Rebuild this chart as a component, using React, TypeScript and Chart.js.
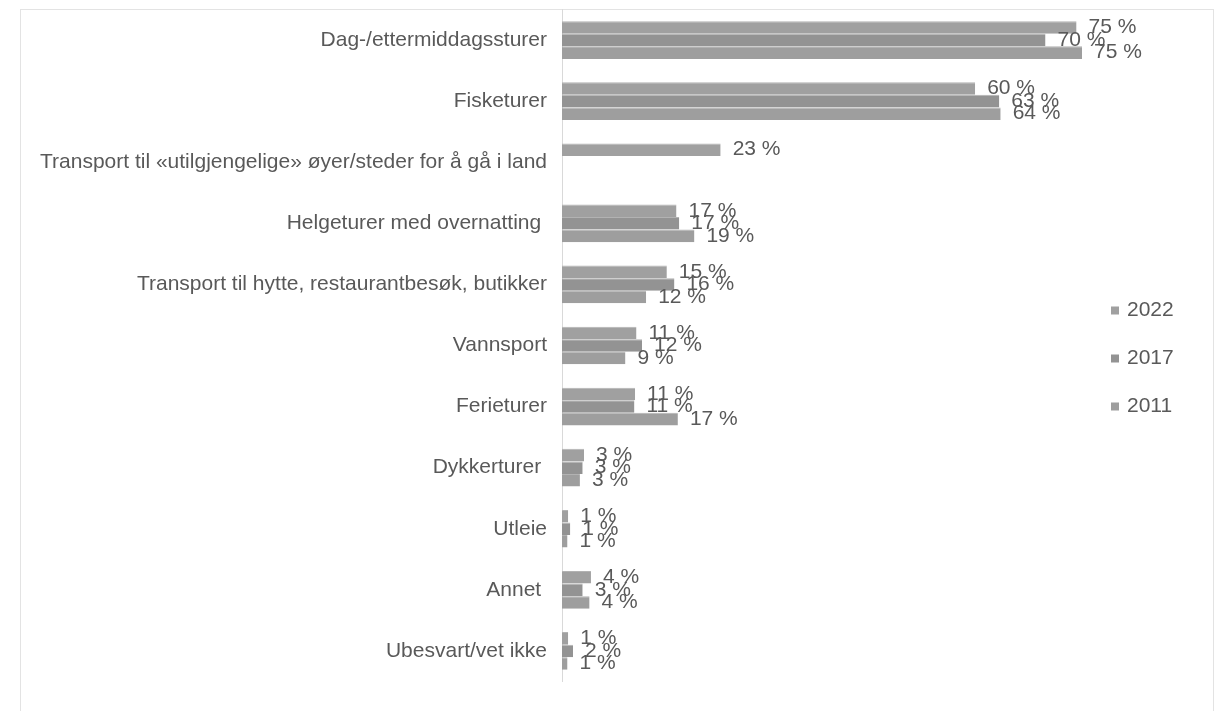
import React, { useEffect, useRef } from "react";
import { Chart, registerables } from "chart.js";

Chart.register(...registerables);

const categories = [
  "Dag-/ettermiddagssturer",
  "Fisketurer",
  "Transport til «utilgjengelige» øyer/steder for å gå i land",
  "Helgeturer med overnatting ",
  "Transport til hytte, restaurantbesøk, butikker",
  "Vannsport",
  "Ferieturer",
  "Dykkerturer ",
  "Utleie",
  "Annet ",
  "Ubesvart/vet ikke",
];

const seriesNames = ["2022", "2017", "2011"];

const values2022: (number | null)[] = [74.6, 59.9, 23.0, 16.6, 15.2, 10.8, 10.6, 3.2, 0.9, 4.2, 0.9];
const values2017: (number | null)[] = [70.1, 63.4, null, 17.0, 16.3, 11.6, 10.5, 3.0, 1.2, 3.0, 1.6];
const values2011: (number | null)[] = [75.4, 63.6, null, 19.2, 12.2, 9.2, 16.8, 2.6, 0.8, 4.0, 0.8];

const seriesColors = ["#a0a0a0", "#939393", "#9e9e9e"];

const FONT = "'Liberation Sans', Arial, sans-serif";
const TEXT_COLOR = "#595959";
const FONT_SIZE = 21;

const valueLabels = {
  id: "valueLabels",
  afterDatasetsDraw(chart: any) {
    const ctx = chart.ctx;
    ctx.save();
    ctx.font = `${FONT_SIZE}px ${FONT}`;
    ctx.fillStyle = TEXT_COLOR;
    ctx.textAlign = "left";
    ctx.textBaseline = "middle";
    chart.data.datasets.forEach((ds: any, di: number) => {
      const meta = chart.getDatasetMeta(di);
      meta.data.forEach((el: any, i: number) => {
        const v = ds.data[i];
        if (v === null || v === undefined) return;
        ctx.fillText(`${Math.round(v)} %`, el.x + 12, el.y);
      });
    });
    ctx.restore();
  },
};

const sideLegend = {
  id: "sideLegend",
  afterDraw(chart: any) {
    const ctx = chart.ctx;
    const area = chart.chartArea;
    const n = chart.data.datasets.length;
    const spacing = 48;
    const midY = (area.top + area.bottom) / 2 + 13;
    ctx.save();
    ctx.font = `${FONT_SIZE}px ${FONT}`;
    ctx.textAlign = "left";
    ctx.textBaseline = "middle";
    chart.data.datasets.forEach((ds: any, i: number) => {
      const y = midY + (i - (n - 1) / 2) * spacing;
      const x = area.right + 11;
      ctx.fillStyle = ds.backgroundColor;
      ctx.fillRect(x, y - 4, 8, 8);
      ctx.fillStyle = TEXT_COLOR;
      ctx.fillText(ds.label, x + 16, y);
    });
    ctx.restore();
  },
};

export default function App() {
  const canvasRef = useRef<HTMLCanvasElement | null>(null);

  useEffect(() => {
    if (!canvasRef.current) return;
    const data = [values2022, values2017, values2011];
    const chart = new Chart(canvasRef.current, {
      type: "bar",
      data: {
        labels: categories,
        datasets: seriesNames.map((name, i) => ({
          label: name,
          data: data[i],
          backgroundColor: seriesColors[i],
          borderColor: "#b2b2b2",
          borderWidth: { top: 1, right: 0, bottom: 0, left: 0 },
          borderSkipped: false,
          inflateAmount: 0,
          categoryPercentage: 0.617,
          barPercentage: 1,
        })),
      },
      options: {
        indexAxis: "y",
        responsive: false,
        animation: false,
        layout: { padding: { left: 0, right: 117, top: 9.5, bottom: 29.5 } },
        plugins: {
          legend: { display: false },
          tooltip: { enabled: false },
        },
        scales: {
          x: {
            display: false,
            min: 0,
            max: 78,
          },
          y: {
            grid: { display: false, drawTicks: false },
            border: { display: true, color: "#d9d9d9", width: 1 },
            ticks: {
              color: TEXT_COLOR,
              font: { family: FONT, size: FONT_SIZE },
              padding: 15,
            },
            afterFit(scale: any) {
              scale.width = 562;
              scale.paddingTop = 0;
              scale.paddingBottom = 0;
            },
          },
        },
      },
      plugins: [valueLabels, sideLegend],
    });
    return () => chart.destroy();
  }, []);

  return (
    <div
      style={{
        position: "fixed",
        left: 0,
        top: 0,
        width: 1217,
        height: 711,
        overflow: "hidden",
        background: "#ffffff",
      }}
    >
      <div
        style={{
          position: "absolute",
          left: 20,
          top: 9,
          width: 1194,
          height: 740,
          border: "1px solid #e3e3e3",
          boxSizing: "border-box",
        }}
      />
      <canvas
        ref={canvasRef}
        width={1217}
        height={711}
        style={{ position: "absolute", left: 0, top: 0, width: 1217, height: 711 }}
      />
    </div>
  );
}
